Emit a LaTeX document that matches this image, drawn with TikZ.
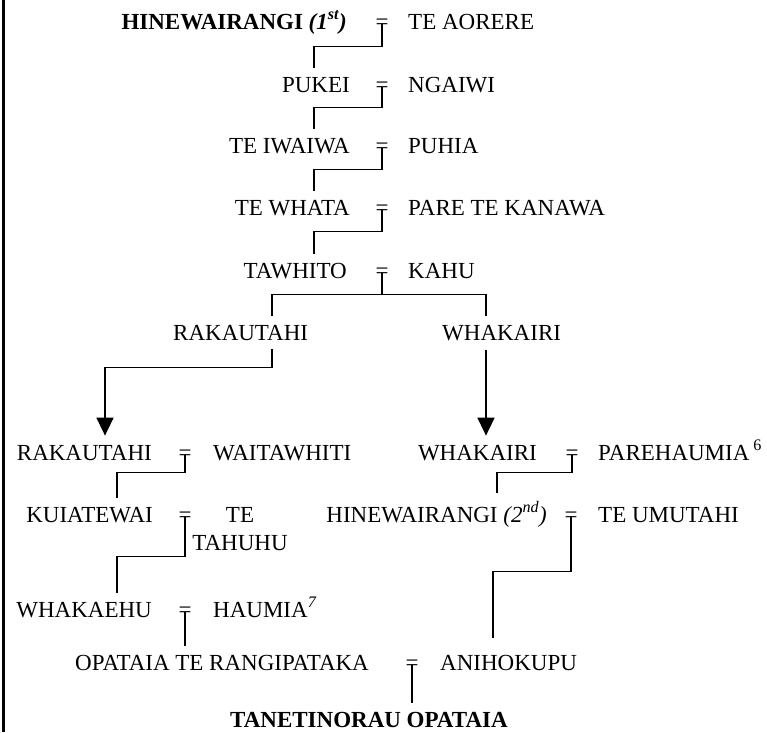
\documentclass[tikz,border=0pt]{standalone}
\usepackage{fontspec}
\setmainfont{Liberation Serif}
\usetikzlibrary{arrows.meta}
\tikzset{
	person/.style={inner xsep=0pt, inner ysep=9pt, font=\fontsize{23}{28}\selectfont},
	lname/.style={person, anchor=base east},
	rname/.style={person, anchor=base west},
	wed/.style={inner sep=0pt, anchor=base, font=\fontsize{23}{28}\selectfont},
	link/.style={line width=1.5pt},
	descent/.style={link, -{Triangle[width=17pt,length=18pt]}}
}
\begin{document}
\begin{tikzpicture}[x=1pt,y=-1pt]
	\useasboundingbox (0,0) rectangle (767,732);
	\draw[line width=2.2pt] (3.5,0) -- (3.5,732);
	
	\node[lname] (hineA) at (347,29) {\textbf{HINEWAIRANGI \textit{(1\textsuperscript{st})}}};
	\node[wed] (wed1) at (382,29) {=};
	\node[rname] (aorere) at (408,29) {TE AORERE};
	
	\node[lname] (pukei) at (350,92) {PUKEI};
	\node[wed] (wed2) at (382,92) {=};
	\node[rname] (ngaiwi) at (408,92) {NGAIWI};
	
	\node[lname] (iwaiwa) at (350,153) {TE IWAIWA};
	\node[wed] (wed3) at (382,153) {=};
	\node[rname] (puhia) at (408,153) {PUHIA};
	
	\node[lname] (whata) at (350,215) {TE WHATA};
	\node[wed] (wed4) at (382,215) {=};
	\node[rname] (pare) at (408,215) {PARE TE KANAWA};
	
	\node[lname] (tawhito) at (347,278) {TAWHITO};
	\node[wed] (wed5) at (382,278) {=};
	\node[rname] (kahu) at (408,278) {KAHU};
	
	\node[rname] (rakA) at (173,340) {RAKAUTAHI};
	\node[rname] (whakA) at (442,340) {WHAKAIRI};
	
	\node[lname] (rakB) at (152,460) {RAKAUTAHI};
	\node[wed] (wed6) at (185,460) {=};
	\node[rname] (waita) at (213,460) {WAITAWHITI};
	\node[lname] (whakB) at (537,460) {WHAKAIRI};
	\node[wed] (wed7) at (572,460) {=};
	\node[rname] (parehau) at (598,460) {PAREHAUMIA\,\textsuperscript{6}};
	
	\node[lname] (kuia) at (153,522) {KUIATEWAI};
	\node[wed] (wed8) at (185,522) {=};
	\node[person, align=center, anchor=base] (tahuhu) at (240,550) {TE\\TAHUHU};
	\node[lname] (hineB) at (547,522) {HINEWAIRANGI \textit{(2\textsuperscript{nd})}};
	\node[wed] (wed9) at (571,522) {=};
	\node[rname] (umutahi) at (598,522) {TE UMUTAHI};
	
	\node[lname] (whakaehu) at (152,617) {WHAKAEHU};
	\node[wed] (wed10) at (185,617) {=};
	\node[rname] (haumia) at (213,617) {HAUMIA\textit{\textsuperscript{7}}};
	
	\node[rname] (opataia) at (75,670) {OPATAIA TE RANGIPATAKA};
	\node[wed] (wed11) at (412,670) {=};
	\node[rname] (ani) at (440,670) {ANIHOKUPU};
	
	\node[rname] (tane) at (230,727) {\textbf{TANETINORAU OPATAIA}};
	
	\draw[link] ([yshift=5.5pt]wed1.base) -- ++(0,23) -| (314,0 |- pukei.north);
	\draw[link] ([yshift=5.5pt]wed2.base) -- ++(0,21) -| (314,0 |- iwaiwa.north);
	\draw[link] ([yshift=5.5pt]wed3.base) -- ++(0,22) -| (314,0 |- whata.north);
	\draw[link] ([yshift=5.5pt]wed4.base) -- ++(0,22) -| (314,0 |- tawhito.north);
	\draw[link] ([yshift=5.5pt]wed5.base) -- ++(0,22) coordinate (fork);
	\draw[link] (272,0 |- rakA.north) |- (fork) -| (486,0 |- whakA.north);
	
	\draw[descent] (272,0 |- rakA.south) -- ++(0,18) -| (105,0 |- rakB.north);
	\draw[descent] (486,0 |- whakA.south) -- (486,0 |- whakB.north);
	
	\draw[link] ([yshift=5.5pt]wed6.base) -- ++(0,18) -| (117,0 |- kuia.north);
	\draw[link] ([yshift=5.5pt]wed7.base) -- ++(0,18) -| (497,0 |- hineB.north);
	\draw[link] ([yshift=5.5pt]wed8.base) -- ++(0,40) -| (117,0 |- whakaehu.north);
	\draw[link, shorten >=8pt] ([yshift=5.5pt]wed9.base) -- ++(0,55) -| (493,0 |- ani.north);
	\draw[link] ([yshift=5.5pt]wed10.base) -- (185,0 |- opataia.north);
	\draw[link] ([yshift=5.5pt]wed11.base) -- (412,0 |- tane.north);
\end{tikzpicture}
\end{document}
